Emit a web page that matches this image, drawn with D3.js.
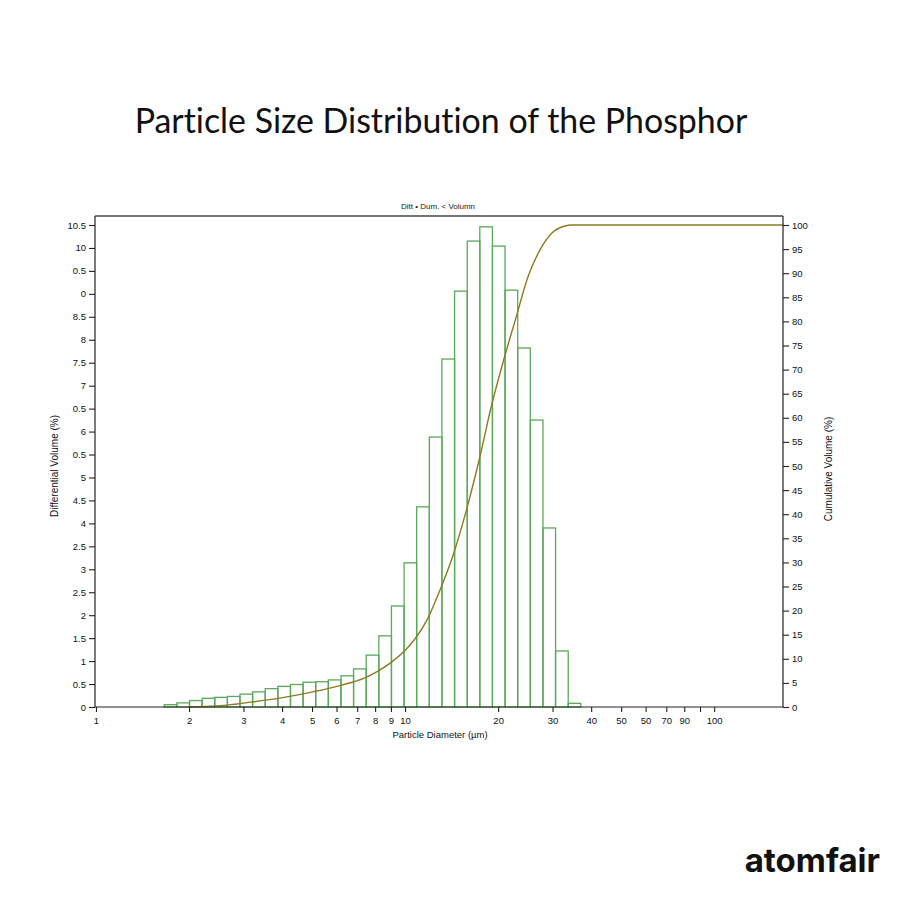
<!DOCTYPE html>
<html>
<head>
<meta charset="utf-8">
<script src="https://cdn.jsdelivr.net/npm/d3@7"></script>
<style>
  html, body { margin: 0; padding: 0; background: #ffffff; }
  svg { display: block; }
  text { font-variant-ligatures: none; }
</style>
</head>
<body>
<svg id="chart" width="900" height="900"></svg>
<script>
// ---------------- DATA ----------------
// bin edges (µm), log-spaced (34 edges -> 33 bins)
const binEdges = [1.663, 1.827, 2.007, 2.204, 2.422, 2.661, 2.923, 3.211, 3.528, 3.876,
  4.258, 4.677, 5.139, 5.645, 6.202, 6.813, 7.485, 8.224, 9.035, 9.926,
  10.90, 11.98, 13.16, 14.46, 15.89, 17.45, 19.17, 21.06, 23.14, 25.42,
  27.93, 30.68, 33.71, 37.03];
// differential volume (%) per bin
const diffVolume = [0.05, 0.09, 0.14, 0.19, 0.21, 0.23, 0.28, 0.33, 0.40, 0.45,
  0.49, 0.54, 0.55, 0.59, 0.68, 0.83, 1.13, 1.55, 2.20, 3.14,
  4.36, 5.88, 7.58, 9.06, 10.15, 10.46, 10.04, 9.08, 7.82, 6.25,
  3.90, 1.22, 0.08];
// cumulative volume curve
const cumDiameter = [2.0, 2.66, 3.16, 4.06, 5.08, 6.2, 7.38, 8.15, 9.0, 9.95,
  10.7, 11.85, 12.9, 14.3, 15.8, 17.4, 19.0, 20.7, 22.9, 25.0,
  27.3, 29.8, 32.9, 34.6, 167];
const cumVolume = [0, 0.4, 1.0, 2.0, 3.2, 4.5, 6.0, 7.4, 9.2, 11.6,
  13.9, 18.4, 23.9, 31.5, 40.9, 51.5, 62.3, 71.3, 81.0, 89.3,
  94.8, 98.3, 99.8, 100, 100];
// tick values and labels (labels as printed in the original)
const xTickValues = [1, 2, 3, 4, 5, 6, 7, 8, 9, 10, 20, 30, 40, 50, 60, 70, 80, 90, 100];
const xTickLabels = ["1", "2", "3", "4", "5", "6", "7", "8", "9", "10", "20", "30", "40", "50", "50", "70", "90", "", "100"];
const yLeftTickValues = [0, 0.5, 1, 1.5, 2, 2.5, 3, 3.5, 4, 4.5, 5, 5.5, 6, 6.5, 7, 7.5, 8, 8.5, 9, 9.5, 10, 10.5];
const yLeftTickLabels = ["0", "0.5", "1", "1.5", "2", "2.5", "3", "2.5", "4", "4.5", "5", "0.5", "6", "0.5", "7", "7.5", "8", "8.5", "0", "0.5", "10", "10.5"];
const yRightTickValues = [0, 5, 10, 15, 20, 25, 30, 35, 40, 45, 50, 55, 60, 65, 70, 75, 80, 85, 90, 95, 100];

const titleText = "Particle Size Distribution of the Phosphor";
const subtitleText = "Ditt  •  Dum. <  Volumn";
const xLabel = "Particle Diameter (µm)";
const yLeftLabel = "Differential Volume (%)";
const yRightLabel = "Cumulative Volume (%)";
const brand = "atomfair";

// ---------------- LAYOUT ----------------
const svg = d3.select("#chart");
const L = 95, R = 783, T = 216, B = 707;
const tickFont = "'Liberation Sans', Arial, sans-serif";

const x = d3.scaleLog().domain([1, 167]).range([96, R]);
const yL = d3.scaleLinear().domain([0, 10.5]).range([B, 225]);
const yR = d3.scaleLinear().domain([0, 100]).range([B, 225]);

// title
const title = svg.append("text")
  .attr("x", 441).attr("y", 133)
  .attr("text-anchor", "middle")
  .attr("font-family", "Lato, 'Open Sans', sans-serif")
  .attr("font-size", 32)
  .attr("fill", "#111")
  .text(titleText);
// fit width to the reference (~613px)
const tw = title.node().getComputedTextLength();
title.attr("font-size", Math.min(38, 32 * 613 / tw));

// subtitle
svg.append("text")
  .attr("x", 438).attr("y", 209)
  .attr("text-anchor", "middle")
  .attr("font-family", tickFont)
  .attr("font-size", 8)
  .attr("fill", "#222")
  .text(subtitleText);

// bars
const bins = diffVolume.map((v, i) => ({ x0: binEdges[i], x1: binEdges[i + 1], v }));
svg.append("g")
  .selectAll("rect")
  .data(bins)
  .join("rect")
  .attr("x", d => x(d.x0))
  .attr("y", d => yL(d.v))
  .attr("width", d => x(d.x1) - x(d.x0))
  .attr("height", d => B - yL(d.v))
  .attr("fill", "none")
  .attr("stroke", "#5aa85a")
  .attr("stroke-width", 1.3);

// cumulative curve
const cumData = cumDiameter.map((d, i) => ({ d, v: cumVolume[i] }));
svg.append("path")
  .datum(cumData)
  .attr("fill", "none")
  .attr("stroke", "#8c7a22")
  .attr("stroke-width", 1.4)
  .attr("d", d3.line().x(d => x(d.d)).y(d => yR(d.v)).curve(d3.curveMonotoneX));

// frame top
svg.append("line")
  .attr("x1", L).attr("x2", R).attr("y1", T).attr("y2", T)
  .attr("stroke", "#444").attr("stroke-width", 1.5);

// axes
const xAxis = d3.axisBottom(x)
  .tickValues(xTickValues)
  .tickFormat((d, i) => xTickLabels[i])
  .tickSize(5).tickSizeOuter(0);
const gx = svg.append("g").attr("transform", `translate(0,${B})`).call(xAxis);
gx.select(".domain").attr("d", `M${L},0H${R}`);

const yLAxis = d3.axisLeft(yL)
  .tickValues(yLeftTickValues)
  .tickFormat((d, i) => yLeftTickLabels[i])
  .tickSize(6).tickSizeOuter(0);
const gyl = svg.append("g").attr("transform", `translate(${L},0)`).call(yLAxis);
gyl.select(".domain").attr("d", `M0,${T}V${B}`);

const yRAxis = d3.axisRight(yR)
  .tickValues(yRightTickValues)
  .tickFormat(d3.format("d"))
  .tickSize(6).tickSizeOuter(0);
const gyr = svg.append("g").attr("transform", `translate(${R},0)`).call(yRAxis);
gyr.select(".domain").attr("d", `M0,${T}V${B}`);

[gx, gyl, gyr].forEach(g => {
  g.select(".domain").attr("stroke", "#222").attr("stroke-width", 1.2);
  g.selectAll(".tick line").attr("stroke", "#222").attr("stroke-width", 1.1);
  g.selectAll(".tick text")
    .attr("font-family", tickFont)
    .attr("font-size", 9.5)
    .attr("fill", "#111");
});
gx.selectAll(".tick text").attr("dy", "0.95em");
gyl.selectAll(".tick text").attr("x", -9);
gyr.selectAll(".tick text").attr("x", 9);

// axis labels
svg.append("text")
  .attr("x", 440).attr("y", 738)
  .attr("text-anchor", "middle")
  .attr("font-family", tickFont)
  .attr("font-size", 9.5)
  .attr("fill", "#111")
  .text(xLabel);

svg.append("text")
  .attr("transform", "translate(58,466) rotate(-90)")
  .attr("text-anchor", "middle")
  .attr("font-family", tickFont)
  .attr("font-size", 10)
  .attr("fill", "#111")
  .text(yLeftLabel);

svg.append("text")
  .attr("transform", "translate(832,469) rotate(-90)")
  .attr("text-anchor", "middle")
  .attr("font-family", tickFont)
  .attr("font-size", 10)
  .attr("fill", "#111")
  .text(yRightLabel);

// brand
svg.append("text")
  .attr("x", 880).attr("y", 872)
  .attr("text-anchor", "end")
  .attr("font-family", "Inter, 'Open Sans', sans-serif")
  .attr("font-weight", 700)
  .attr("font-size", 33)
  .attr("fill", "#111")
  .text(brand);
</script>
</body>
</html>
